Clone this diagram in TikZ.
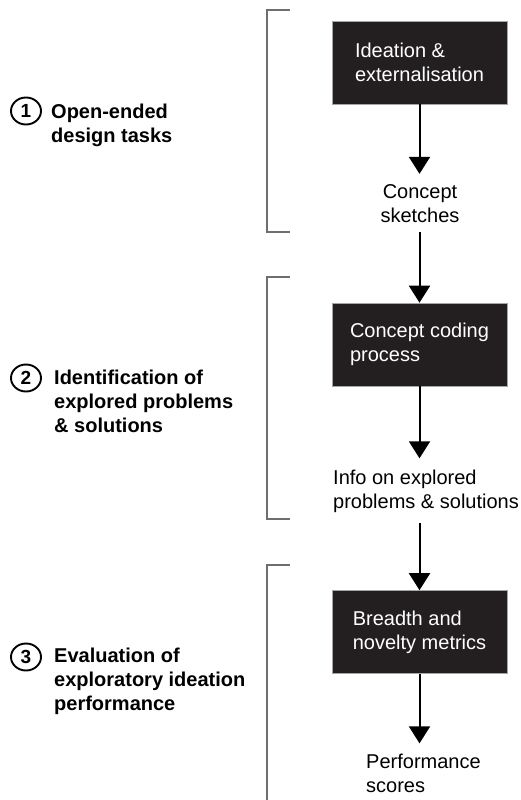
\documentclass[tikz,border=0pt]{standalone}
\usepackage{fontspec}
\setmainfont{Liberation Sans}
\usetikzlibrary{arrows.meta,shapes.geometric}
\definecolor{boxblack}{HTML}{231F20}
\definecolor{brkgray}{HTML}{6E6E6E}
\begin{document}
\begin{tikzpicture}[x=1pt,y=-1pt,
  every node/.style={font=\fontsize{20}{24}\selectfont},
  procbox/.style={fill=boxblack, draw=gray!70, line width=0.6pt, text=white,
    minimum width=175pt, minimum height=83pt, align=left, inner sep=0pt},
  outtext/.style={align=left, inner xsep=0pt, inner ysep=10pt},
  arr/.style={line width=2pt, -{Triangle[width=21pt,length=17pt]}},
  brk/.style={draw=brkgray, line width=1.4pt},
  num/.style={ellipse, draw, line width=1.9pt, minimum width=30pt, minimum height=27pt,
    inner sep=0pt, font=\bfseries\fontsize{19}{20}\selectfont},
  lbl/.style={align=left, inner sep=0pt, anchor=base west,
    font=\bfseries\fontsize{20}{24}\selectfont}
]
\useasboundingbox (0,0) rectangle (521,800);

% process boxes and outputs (base anchor = last line)
\node[procbox] (b1) at (419.5,62.5) {Ideation \&\\externalisation};
\node[outtext, align=center, anchor=base] (cs) at (420,222) {Concept\\sketches};
\node[procbox] (b2) at (419.5,344.5) {Concept coding\\process};
\node[outtext, inner ysep=11pt, anchor=base west] (info) at (333,508) {Info on explored\\problems \& solutions};
\node[procbox] (b3) at (419.5,632) {Breadth and\\novelty metrics};
\node[outtext, anchor=base west] (perf) at (366,792) {Performance\\scores};

% arrows
\draw[arr] (b1.south) -- (b1.south |- cs.north);
\draw[arr] (b1.south |- cs.south) -- (b2.north);
\draw[arr] (b2.south) -- (b2.south |- info.north);
\draw[arr] (b2.south |- info.south) -- (b3.north);
\draw[arr] (b3.south) -- (b3.south |- perf.north);

% stage labels
\node[num] (n1) at (26,111) {1};
\node[lbl] (l1) at (51,142) {Open-ended\\design tasks};
\node[num] (n2) at (26,378) {2};
\node[lbl] (l2) at (54,432) {Identification of\\explored problems\\\& solutions};
\node[num] (n3) at (26,657) {3};
\node[lbl] (l3) at (54,710) {Evaluation of\\exploratory ideation\\performance};

% brackets
\draw[brk] (290,10) -- (267,10) -- (267,232) -- (290,232);
\draw[brk] (290,277) -- (267,277) -- (267,519) -- (290,519);
\draw[brk] (290,565) -- (267,565) -- (267,801);
\end{tikzpicture}
\end{document}
